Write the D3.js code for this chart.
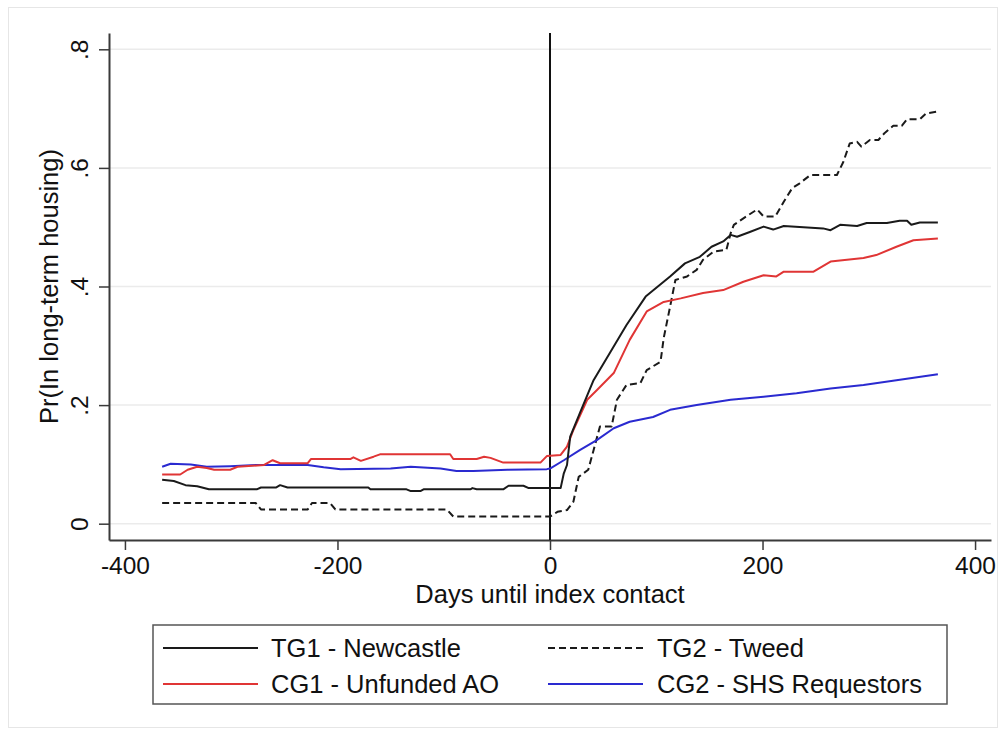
<!DOCTYPE html>
<html>
<head>
<meta charset="utf-8">
<script src="https://cdn.jsdelivr.net/npm/d3@7"></script>
<style>
  html, body { margin: 0; padding: 0; background: #ffffff; }
  svg { display: block; }
  text { font-family: "Liberation Sans", Arial, Helvetica, sans-serif; fill: #111; }
</style>
</head>
<body>
<svg id="chart" width="1005" height="734"></svg>
<script>
// ---- Data ----
const xTicks = [-400, -200, 0, 200, 400];
const xTickLabels = ["-400", "-200", "0", "200", "400"];
const yTicks = [0, 0.2, 0.4, 0.6, 0.8];
const yTickLabels = ["0", ".2", ".4", ".6", ".8"];
const xTitle = "Days until index contact";
const yTitle = "Pr(In long-term housing)";

const seriesNames = ["TG1 - Newcastle", "TG2 - Tweed", "CG1 - Unfunded AO", "CG2 - SHS Requestors"];

// [days, probability]
const tg1Newcastle = [[-365,0.074],[-354,0.072],[-343,0.065],[-332,0.063],[-321,0.058],[-276,0.058],[-272,0.061],[-258,0.061],[-254,0.065],[-247,0.061],[-171,0.061],[-169,0.058],[-135,0.058],[-131,0.055],[-122,0.055],[-119,0.058],[-75,0.058],[-73,0.060],[-69,0.058],[-44,0.058],[-39,0.064],[-25,0.064],[-20,0.060],[10,0.060],[13,0.085],[16,0.099],[19,0.147],[28,0.186],[41,0.242],[57,0.290],[72,0.335],[90,0.383],[113,0.417],[127,0.439],[141,0.450],[152,0.467],[163,0.476],[170,0.487],[176,0.484],[188,0.492],[201,0.501],[210,0.496],[220,0.502],[257,0.498],[264,0.495],[273,0.504],[289,0.502],[298,0.507],[317,0.507],[329,0.511],[336,0.511],[340,0.504],[348,0.508],[365,0.508]];

const tg2Tweed = [[-365,0.035],[-277,0.035],[-272,0.024],[-228,0.024],[-224,0.035],[-207,0.035],[-202,0.024],[-97,0.024],[-91,0.012],[0,0.012],[7,0.020],[16,0.023],[22,0.037],[27,0.079],[36,0.091],[41,0.124],[47,0.164],[58,0.164],[63,0.209],[72,0.234],[85,0.237],[91,0.259],[104,0.273],[107,0.313],[113,0.366],[118,0.411],[129,0.417],[138,0.428],[144,0.445],[154,0.459],[166,0.462],[170,0.490],[173,0.504],[182,0.515],[195,0.530],[201,0.518],[212,0.518],[220,0.543],[228,0.566],[235,0.574],[245,0.588],[270,0.588],[276,0.610],[282,0.641],[289,0.644],[293,0.636],[301,0.647],[309,0.647],[315,0.659],[323,0.671],[331,0.671],[336,0.682],[348,0.682],[354,0.692],[365,0.695]];

const cg1UnfundedAO = [[-365,0.083],[-348,0.083],[-341,0.091],[-332,0.096],[-323,0.094],[-316,0.091],[-301,0.091],[-294,0.096],[-269,0.099],[-261,0.107],[-254,0.102],[-228,0.102],[-225,0.109],[-188,0.109],[-185,0.112],[-178,0.106],[-166,0.113],[-160,0.117],[-94,0.117],[-91,0.109],[-69,0.109],[-62,0.113],[-56,0.111],[-44,0.103],[-9,0.103],[-3,0.114],[10,0.116],[16,0.130],[22,0.158],[35,0.209],[44,0.225],[60,0.254],[75,0.310],[91,0.358],[107,0.374],[123,0.380],[144,0.389],[163,0.394],[182,0.408],[201,0.419],[213,0.417],[220,0.425],[248,0.425],[264,0.442],[295,0.448],[307,0.453],[326,0.467],[342,0.478],[365,0.481]];

const cg2SHSRequestors = [[-365,0.096],[-357,0.101],[-338,0.100],[-323,0.096],[-301,0.097],[-276,0.099],[-228,0.099],[-213,0.095],[-197,0.092],[-150,0.093],[-131,0.096],[-103,0.093],[-88,0.089],[-72,0.089],[-40,0.091],[-3,0.092],[0,0.093],[13,0.107],[28,0.124],[44,0.141],[60,0.161],[75,0.172],[97,0.180],[113,0.192],[138,0.200],[170,0.209],[201,0.214],[232,0.220],[264,0.228],[295,0.234],[326,0.242],[365,0.252]];

// ---- Layout ----
const svg = d3.select("#chart");
const plot = { left: 109, right: 991, top: 33, bottom: 540 };

const x = d3.scaleLinear().domain([-415, 415]).range([plot.left, plot.right]);
const y = d3.scaleLinear().domain([-0.0275, 0.8275]).range([plot.bottom, plot.top]);

// outer faint frame
svg.append("rect").attr("x", 8.5).attr("y", 7.5).attr("width", 989).attr("height", 720)
  .attr("fill", "none").attr("stroke", "#e6e6e6").attr("stroke-width", 1);

// gridlines
svg.append("g").selectAll("line").data(yTicks).join("line")
  .attr("x1", plot.left).attr("x2", plot.right)
  .attr("y1", d => y(d)).attr("y2", d => y(d))
  .attr("stroke", "#ebebeb").attr("stroke-width", 1.5);

// axes
const yAxis = svg.append("g").attr("transform", `translate(${plot.left},0)`)
  .call(d3.axisLeft(y).tickValues(yTicks).tickSize(10).tickSizeOuter(0)
    .tickFormat((d, i) => yTickLabels[i]));
yAxis.select(".domain").attr("stroke", "#3a3a3a").attr("stroke-width", 2);
yAxis.selectAll(".tick line").attr("stroke", "#3a3a3a").attr("stroke-width", 1.5);
yAxis.selectAll(".tick text")
  .attr("transform", "rotate(-90)")
  .attr("x", 0).attr("y", -21).attr("dy", 0)
  .attr("text-anchor", "middle")
  .style("font-size", "24.5px").style("font-family", "'Liberation Sans', Arial, sans-serif").attr("fill", "#111");

const xAxis = svg.append("g").attr("transform", `translate(0,${plot.bottom})`)
  .call(d3.axisBottom(x).tickValues(xTicks).tickSize(10).tickSizeOuter(0)
    .tickFormat((d, i) => xTickLabels[i]));
xAxis.select(".domain").attr("stroke", "#3a3a3a").attr("stroke-width", 2);
xAxis.selectAll(".tick line").attr("stroke", "#3a3a3a").attr("stroke-width", 1.5);
xAxis.selectAll(".tick text")
  .attr("y", 34).attr("dy", 0)
  .style("font-size", "24.5px").style("font-family", "'Liberation Sans', Arial, sans-serif").attr("fill", "#111");

// axis titles
svg.append("text").attr("x", x(0)).attr("y", 603).attr("text-anchor", "middle")
  .style("font-size", "25.5px").text(xTitle);
svg.append("text").attr("transform", `translate(58,${(plot.top + plot.bottom) / 2}) rotate(-90)`)
  .attr("text-anchor", "middle").style("font-size", "25.5px").text(yTitle);

// vertical reference line at day 0
svg.append("line").attr("x1", x(0)).attr("x2", x(0)).attr("y1", plot.top).attr("y2", plot.bottom)
  .attr("stroke", "#111").attr("stroke-width", 2);

// series
const series = [
  { name: seriesNames[0], data: tg1Newcastle, color: "#1a1a1a", dash: null },
  { name: seriesNames[1], data: tg2Tweed, color: "#1a1a1a", dash: "7,4" },
  { name: seriesNames[2], data: cg1UnfundedAO, color: "#e03535", dash: null },
  { name: seriesNames[3], data: cg2SHSRequestors, color: "#2a2ad0", dash: null }
];
const line = d3.line().x(d => x(d[0])).y(d => y(d[1]));
const drawOrder = [1, 3, 2, 0];
drawOrder.forEach(i => {
  const s = series[i];
  svg.append("path").datum(s.data).attr("d", line)
    .attr("fill", "none").attr("stroke", s.color).attr("stroke-width", 2)
    .attr("stroke-linejoin", "round")
    .attr("stroke-dasharray", s.dash);
});

// legend
const lg = svg.append("g");
lg.append("rect").attr("x", 153).attr("y", 625).attr("width", 794).attr("height", 79)
  .attr("fill", "#fff").attr("stroke", "#555").attr("stroke-width", 1.5);
const legendPos = [
  { s: series[0], kx: 163, tx: 271, ry: 648 },
  { s: series[1], kx: 548, tx: 657, ry: 648 },
  { s: series[2], kx: 163, tx: 271, ry: 684 },
  { s: series[3], kx: 548, tx: 657, ry: 684 }
];
legendPos.forEach(p => {
  lg.append("line").attr("x1", p.kx).attr("x2", p.kx + 95).attr("y1", p.ry).attr("y2", p.ry)
    .attr("stroke", p.s.color).attr("stroke-width", 2).attr("stroke-dasharray", p.s.dash);
  lg.append("text").attr("x", p.tx).attr("y", p.ry + 9).style("font-size", "25.5px").text(p.s.name);
});
</script>
</body>
</html>
